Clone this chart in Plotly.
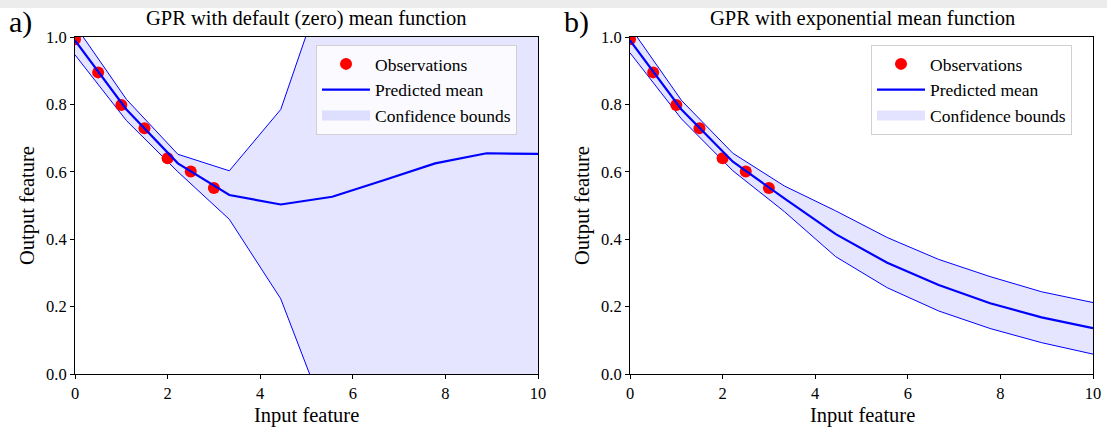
import plotly.graph_objects as go

# Observations
obs_x = [0.0, 0.5, 1.0, 1.5, 2.0, 2.5, 3.0]
obs_y = [0.993, 0.895, 0.798, 0.729, 0.640, 0.601, 0.552]

# Prediction grid
pred_x = [0.0, 1.111, 2.222, 3.333, 4.444, 5.556, 6.667, 7.778, 8.889, 10.0]

# a) zero mean function
mean_a = [0.990, 0.785, 0.625, 0.531, 0.503, 0.526, 0.575, 0.625, 0.655, 0.653]
upper_a = [1.035, 0.815, 0.652, 0.603, 0.785, 1.230, 1.600, 1.800, 1.950, 2.000]
lower_a = [0.947, 0.752, 0.600, 0.459, 0.223, -0.175, -0.450, -0.550, -0.640, -0.690]

# b) exponential mean function
mean_b = [0.990, 0.785, 0.630, 0.521, 0.415, 0.330, 0.264, 0.210, 0.168, 0.136]
upper_b = [1.030, 0.812, 0.655, 0.558, 0.484, 0.405, 0.340, 0.289, 0.244, 0.212]
lower_b = [0.953, 0.757, 0.603, 0.482, 0.348, 0.256, 0.187, 0.135, 0.093, 0.059]

FONT = "Liberation Serif"
W, H = 1107, 428

def px_x(p):
    return p / W

def px_y(p):
    return 1 - p / H

fig = go.Figure()

panels = [
    ("x", "y", "legend", mean_a, upper_a, lower_a),
    ("x2", "y2", "legend2", mean_b, upper_b, lower_b),
]

for xa, ya, lg, m, u, l in panels:
    fig.add_trace(go.Scatter(x=pred_x, y=u, xaxis=xa, yaxis=ya, mode="lines",
                             line=dict(color="blue", width=1), showlegend=False,
                             hoverinfo="skip"))
    fig.add_trace(go.Scatter(x=pred_x, y=l, xaxis=xa, yaxis=ya, mode="lines",
                             line=dict(color="blue", width=1), fill="tonexty",
                             fillcolor="rgba(0,0,255,0.1)", showlegend=False,
                             hoverinfo="skip"))
    fig.add_trace(go.Scatter(x=obs_x, y=obs_y, xaxis=xa, yaxis=ya, mode="markers",
                             marker=dict(color="red", size=12), name="Observations",
                             legend=lg, legendrank=1))
    fig.add_trace(go.Scatter(x=pred_x, y=m, xaxis=xa, yaxis=ya, mode="lines",
                             line=dict(color="blue", width=2.2), name="Predicted mean",
                             legend=lg, legendrank=2))
    # legend-only proxy for the confidence band
    fig.add_trace(go.Scatter(x=[None], y=[None], xaxis=xa, yaxis=ya, mode="lines",
                             line=dict(color="rgba(0,0,255,0.11)", width=12),
                             name="Confidence bounds", legend=lg, legendrank=3))

axis_common = dict(
    range=[0, 10], showline=True, linecolor="black", linewidth=1, mirror=True,
    ticks="outside", ticklen=4, tickcolor="black", showgrid=False, zeroline=False,
    automargin=False,
    tickfont=dict(family=FONT, size=16.5, color="black"),
)
yaxis_common = dict(axis_common)
yaxis_common.update(range=[0, 1], tickvals=[0, 0.2, 0.4, 0.6, 0.8, 1.0],
                    tickformat=".1f")
xaxis_common = dict(axis_common)
xaxis_common.update(tickvals=[0, 2, 4, 6, 8, 10])

legend_common = dict(xanchor="left", yanchor="top", traceorder="normal",
                     bgcolor="rgba(255,255,255,0.8)", bordercolor="#d0d0d0",
                     borderwidth=1, font=dict(family=FONT, size=17.5, color="black"),
                     tracegroupgap=0, itemwidth=48)

ydom = [px_y(374), px_y(37)]
fig.update_layout(
    width=W, height=H,
    margin=dict(l=0, r=0, t=0, b=0, autoexpand=False),
    paper_bgcolor="white", plot_bgcolor="white",
    font=dict(family=FONT, color="black"),
    xaxis=dict(domain=[px_x(75), px_x(538)], anchor="y", **xaxis_common),
    yaxis=dict(domain=ydom, anchor="x", **yaxis_common),
    xaxis2=dict(domain=[px_x(630), px_x(1093)], anchor="y2", **xaxis_common),
    yaxis2=dict(domain=ydom, anchor="x2", **yaxis_common),
    legend=dict(x=px_x(316), y=px_y(45), **legend_common),
    legend2=dict(x=px_x(871), y=px_y(45), **legend_common),
    showlegend=True,
)

# faint grey band along the top edge seen in the reference
fig.add_shape(type="rect", xref="paper", yref="paper", x0=0, x1=1,
              y0=px_y(8), y1=1, fillcolor="rgba(200,200,200,0.35)",
              line=dict(width=0), layer="below")

annotations = [
    dict(text="GPR with default (zero) mean function", x=px_x(306), y=px_y(19)),
    dict(text="GPR with exponential mean function", x=px_x(862), y=px_y(19)),
    dict(text="Input feature", x=px_x(306), y=px_y(415)),
    dict(text="Input feature", x=px_x(862), y=px_y(415)),
]
for a in annotations:
    fig.add_annotation(xref="paper", yref="paper", showarrow=False,
                       xanchor="center", yanchor="middle",
                       font=dict(family=FONT, size=20.5, color="black"), **a)
for txt, xp in [("Output feature", 27), ("Output feature", 582)]:
    fig.add_annotation(xref="paper", yref="paper", showarrow=False, text=txt,
                       x=px_x(xp), y=px_y(206), textangle=-90,
                       xanchor="center", yanchor="middle",
                       font=dict(family=FONT, size=20.5, color="black"))
for txt, xp in [("a)", 20), ("b)", 576)]:
    fig.add_annotation(xref="paper", yref="paper", showarrow=False, text=txt,
                       x=px_x(xp), y=px_y(22), xanchor="center", yanchor="middle",
                       font=dict(family=FONT, size=30, color="black"))

fig.write_html("out.html")
